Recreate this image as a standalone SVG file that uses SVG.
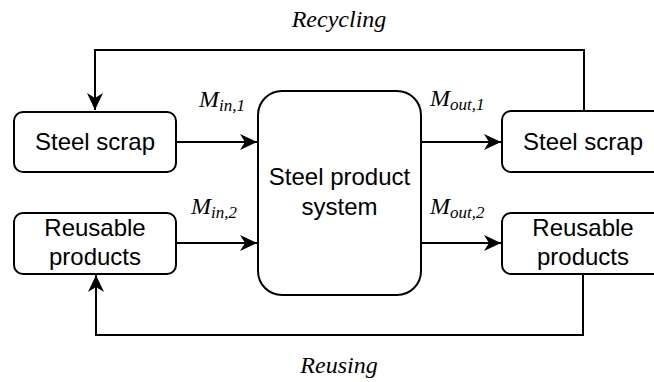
<svg xmlns="http://www.w3.org/2000/svg" width="654" height="382" viewBox="0 0 654 382">
<style>
.box{fill:#fff;stroke:#000;stroke-width:2}
.line{fill:none;stroke:#000;stroke-width:2}
.t{font-family:"Liberation Sans",Arial,sans-serif;font-size:24px;fill:#000;text-anchor:middle}
.it{font-family:"Liberation Serif","Times New Roman",serif;font-style:italic;fill:#000}
.lab{font-size:24px}
.sub{font-size:17px}
</style>
<defs>
<marker id="arr" markerUnits="userSpaceOnUse" markerWidth="20" markerHeight="20" viewBox="-18 -9 20 18" refX="0" refY="0" orient="auto">
<path d="M0,0 L-17,-8 L-12,0 L-17,8 Z" fill="#000"/>
</marker>
</defs>
<rect width="654" height="382" fill="#fff"/>
<g id="connectors">
<path class="line" d="M584,111 V50 H95 V110" marker-end="url(#arr)"/>
<path class="line" d="M583,274 V335 H96 V275" marker-end="url(#arr)"/>
<path class="line" d="M177,142 H257" marker-end="url(#arr)"/>
<path class="line" d="M177,243 H257" marker-end="url(#arr)"/>
<path class="line" d="M421,142 H501" marker-end="url(#arr)"/>
<path class="line" d="M421,243 H501" marker-end="url(#arr)"/>
</g>
<g id="steel-scrap-in">
<rect class="box" x="14" y="112" width="162" height="60" rx="9"/>
<text class="t" x="95" y="150">Steel scrap</text>
</g>
<g id="reusable-in">
<rect class="box" x="14" y="213" width="162" height="61" rx="9"/>
<text class="t" x="95" y="236">Reusable</text>
<text class="t" x="95" y="265">products</text>
</g>
<g id="system">
<rect class="box" x="258" y="91" width="163" height="204" rx="24"/>
<text class="t" x="339.5" y="185">Steel product</text>
<text class="t" x="339.5" y="215">system</text>
</g>
<g id="steel-scrap-out">
<rect class="box" x="502" y="111" width="162" height="61" rx="9"/>
<text class="t" x="583" y="150">Steel scrap</text>
</g>
<g id="reusable-out">
<rect class="box" x="502" y="213" width="162" height="61" rx="9"/>
<text class="t" x="583" y="236">Reusable</text>
<text class="t" x="583" y="265">products</text>
</g>
<g id="labels">
<text class="it lab" x="339" y="27" text-anchor="middle">Recycling</text>
<text class="it lab" x="339" y="373" text-anchor="middle">Reusing</text>
<text class="it" x="199" y="107"><tspan class="lab">M</tspan><tspan class="sub" dy="4">in,1</tspan></text>
<text class="it" x="191" y="214"><tspan class="lab">M</tspan><tspan class="sub" dy="4">in,2</tspan></text>
<text class="it" x="430" y="106"><tspan class="lab">M</tspan><tspan class="sub" dy="4">out,1</tspan></text>
<text class="it" x="430" y="214"><tspan class="lab">M</tspan><tspan class="sub" dy="4">out,2</tspan></text>
</g>
</svg>
